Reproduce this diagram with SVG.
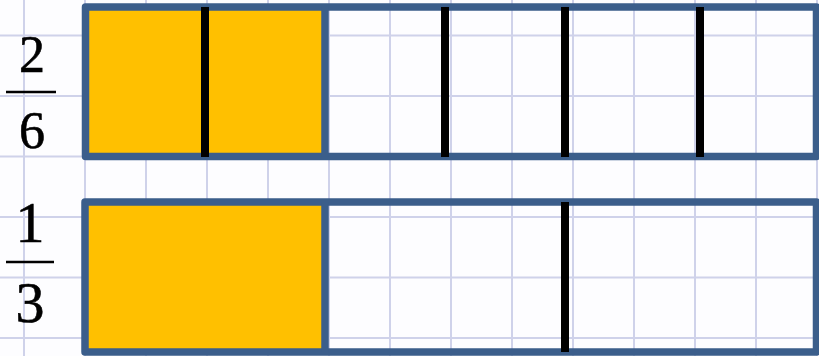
<svg xmlns="http://www.w3.org/2000/svg" width="819" height="356" viewBox="0 0 819 356">
<defs>
<style>
.grid line{stroke:#cfd2ea;stroke-width:2}
.frame{fill:none;stroke:#3b5e8b;stroke-width:7.5;stroke-linejoin:round}
.fill{fill:#ffc000}
.sep{stroke:#3b5e8b;stroke-width:7.5}
.div{stroke:#000;stroke-width:8}
.num{font-family:"Liberation Serif","Times New Roman",serif;fill:#000;stroke:#000;stroke-width:0.6;text-anchor:middle}
.fbar{stroke:#000;stroke-width:2.5}
</style>
</defs>
<rect width="819" height="356" fill="#fdfdff"/>
<g class="grid">
<line x1="24" y1="0" x2="24" y2="356"/>
<line x1="85" y1="0" x2="85" y2="356"/>
<line x1="146" y1="0" x2="146" y2="356"/>
<line x1="207" y1="0" x2="207" y2="356"/>
<line x1="268" y1="0" x2="268" y2="356"/>
<line x1="329" y1="0" x2="329" y2="356"/>
<line x1="390" y1="0" x2="390" y2="356"/>
<line x1="451" y1="0" x2="451" y2="356"/>
<line x1="512" y1="0" x2="512" y2="356"/>
<line x1="573" y1="0" x2="573" y2="356"/>
<line x1="634" y1="0" x2="634" y2="356"/>
<line x1="695" y1="0" x2="695" y2="356"/>
<line x1="756" y1="0" x2="756" y2="356"/>
<line x1="817" y1="0" x2="817" y2="356"/>
<line x1="0" y1="35.5" x2="819" y2="35.5"/>
<line x1="0" y1="96" x2="819" y2="96"/>
<line x1="0" y1="156.5" x2="819" y2="156.5"/>
<line x1="0" y1="217" x2="819" y2="217"/>
<line x1="0" y1="277.5" x2="819" y2="277.5"/>
<line x1="0" y1="338" x2="819" y2="338"/>
</g>
<g id="fraction-2-6">
<text class="num" x="32" y="72" font-size="52">2</text>
<line class="fbar" x1="6" y1="92" x2="56" y2="92"/>
<text class="num" x="32" y="148" font-size="52">6</text>
</g>
<g id="fraction-1-3">
<text class="num" x="30" y="242" font-size="58">1</text>
<line class="fbar" x1="6" y1="262" x2="54" y2="262"/>
<text class="num" x="30" y="322" font-size="58">3</text>
</g>
<g id="bar-sixths">
<rect class="fill" x="85" y="7" width="240" height="150"/>
<rect class="frame" x="85.5" y="7" width="731" height="149.5"/>
<line class="sep" x1="325" y1="7" x2="325" y2="156.5"/>
<line class="div" x1="205" y1="7" x2="205" y2="157"/>
<line class="div" x1="445" y1="7" x2="445" y2="157"/>
<line class="div" x1="565" y1="7" x2="565" y2="157"/>
<line class="div" x1="700" y1="7" x2="700" y2="157"/>
</g>
<g id="bar-thirds">
<rect class="fill" x="85" y="202" width="240" height="150"/>
<rect class="frame" x="85" y="202" width="731.5" height="150"/>
<line class="sep" x1="325" y1="202" x2="325" y2="352"/>
<line class="div" x1="565" y1="202" x2="565" y2="352"/>
</g>
<g id="connectors"/>
</svg>
